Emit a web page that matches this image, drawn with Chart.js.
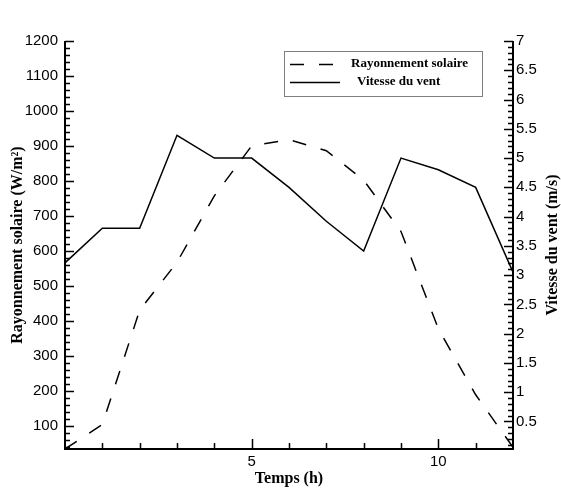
<!DOCTYPE html>
<html>
<head>
<meta charset="utf-8">
<script src="https://cdn.jsdelivr.net/npm/chart.js@4/dist/chart.umd.min.js"></script>
<style>
  body { margin: 0; background: #fff; }
  canvas { display: block; }
</style>
</head>
<body>
<canvas id="chart" width="561" height="488"></canvas>
<script>
const hours = [0, 1, 2, 3, 4, 5, 6, 7, 8, 9, 10, 11, 12];
const solar = [33, 103, 430, 567, 757, 900, 918, 886, 802, 655, 377, 188, 38];
const wind = [3.21, 3.8, 3.8, 5.39, 5.0, 5.0, 4.5, 3.92, 3.41, 5.0, 4.8, 4.5, 3.05];

const xLabels = [5, 10];
const solarTicks = [100, 200, 300, 400, 500, 600, 700, 800, 900, 1000, 1100, 1200];
const windTicks = [0.5, 1, 1.5, 2, 2.5, 3, 3.5, 4, 4.5, 5, 5.5, 6, 6.5, 7];

const labelFont = { family: "'Liberation Sans', Arial, sans-serif", size: 15 };
const titleFont = { family: "'Liberation Serif', 'Times New Roman', serif", size: 16, weight: "bold" };

// axes frame with inward ticks, legend box and the right title
const framePlugin = {
  id: "frame",
  afterDraw(chart) {
    const { ctx, chartArea: a, scales } = chart;
    const x = scales.x, y = scales.y, y1 = scales.y1;
    ctx.save();
    ctx.strokeStyle = "#000";

    ctx.lineWidth = 1.5;
    ctx.beginPath();
    for (let h = 1; h < 12; h++) {
      const px = Math.round(x.getPixelForValue(h)) + 0.5;
      const len = h % 5 === 0 ? 10 : 6;
      ctx.moveTo(px, a.bottom);
      ctx.lineTo(px, a.bottom - len);
    }
    for (let v = 40; v <= 1200; v += 20) {
      const py = Math.round(y.getPixelForValue(v)) + 0.5;
      const len = v % 100 === 0 ? 9 : 5;
      ctx.moveTo(a.left, py);
      ctx.lineTo(a.left + len, py);
    }
    for (let i = 1; i <= 70; i++) {
      const py = Math.round(y1.getPixelForValue(i / 10)) + 0.5;
      const len = i % 5 === 0 ? 9 : 5;
      ctx.moveTo(a.right, py);
      ctx.lineTo(a.right - len, py);
    }
    ctx.stroke();

    ctx.lineWidth = 2;
    ctx.beginPath();
    ctx.moveTo(a.left, a.top);
    ctx.lineTo(a.left, a.bottom);
    ctx.lineTo(a.right, a.bottom);
    ctx.lineTo(a.right, a.top);
    ctx.stroke();

    // legend
    ctx.lineWidth = 1;
    ctx.strokeStyle = "#808080";
    ctx.strokeRect(284.5, 51.5, 198, 45);
    ctx.strokeStyle = "#000";
    ctx.lineWidth = 1.5;
    ctx.setLineDash([14, 15]);
    ctx.beginPath();
    ctx.moveTo(290, 64.5);
    ctx.lineTo(340, 64.5);
    ctx.stroke();
    ctx.setLineDash([]);
    ctx.beginPath();
    ctx.moveTo(290, 82.5);
    ctx.lineTo(340, 82.5);
    ctx.stroke();
    ctx.fillStyle = "#000";
    ctx.font = "bold 13px 'Liberation Serif', 'Times New Roman', serif";
    ctx.textBaseline = "middle";
    ctx.textAlign = "left";
    ctx.fillText("Rayonnement solaire", 351, 64);
    ctx.fillText("Vitesse du vent", 357, 82);

    ctx.font = "bold 16px 'Liberation Serif', 'Times New Roman', serif";
    ctx.textAlign = "center";
    ctx.translate(553, (a.top + a.bottom) / 2);
    ctx.rotate(-Math.PI / 2);
    ctx.fillText("Vitesse du vent (m/s)", 0, 0);
    ctx.restore();
  }
};

new Chart(document.getElementById("chart"), {
  type: "line",
  data: {
    datasets: [
      {
        label: "Rayonnement solaire",
        data: hours.map((h, i) => ({ x: h, y: solar[i] })),
        yAxisID: "y",
        borderColor: "#000",
        borderWidth: 1.5,
        borderDash: [14, 15],
        pointRadius: 0,
        fill: false,
        tension: 0
      },
      {
        label: "Vitesse du vent",
        data: hours.map((h, i) => ({ x: h, y: wind[i] })),
        yAxisID: "y1",
        borderColor: "#000",
        borderWidth: 1.5,
        pointRadius: 0,
        fill: false,
        tension: 0
      }
    ]
  },
  options: {
    responsive: false,
    animation: false,
    layout: { padding: { top: 41, left: 0, right: 0, bottom: 0 } },
    plugins: { legend: { display: false }, tooltip: { enabled: false } },
    scales: {
      x: {
        type: "linear",
        min: 0,
        max: 12,
        grid: { display: false, drawTicks: false },
        border: { display: false },
        afterBuildTicks: (s) => { s.ticks = xLabels.map((v) => ({ value: v })); },
        afterFit: (s) => { s.height = 39; },
        ticks: { color: "#000", font: labelFont, padding: 4, maxRotation: 0, callback: (v) => String(v) },
        title: { display: true, text: "Temps (h)", color: "#000", font: titleFont, padding: { top: 0, bottom: 0 } }
      },
      y: {
        position: "left",
        min: 33,
        max: 1200,
        grid: { display: false, drawTicks: false },
        border: { display: false },
        afterBuildTicks: (s) => { s.ticks = solarTicks.map((v) => ({ value: v })); },
        afterFit: (s) => { s.width = 65; },
        ticks: { color: "#000", font: labelFont, padding: 7, callback: (v) => String(v) },
        title: { display: true, text: "Rayonnement solaire (W/m²)", color: "#000", font: titleFont, padding: { top: 8, bottom: 0 } }
      },
      y1: {
        position: "right",
        min: 0.03,
        max: 7,
        grid: { display: false, drawTicks: false },
        border: { display: false },
        afterBuildTicks: (s) => { s.ticks = windTicks.map((v) => ({ value: v })); },
        afterFit: (s) => { s.width = 48; },
        ticks: { color: "#000", font: labelFont, padding: 3, callback: (v) => String(v) }
      }
    }
  },
  plugins: [framePlugin]
});
</script>
</body>
</html>
